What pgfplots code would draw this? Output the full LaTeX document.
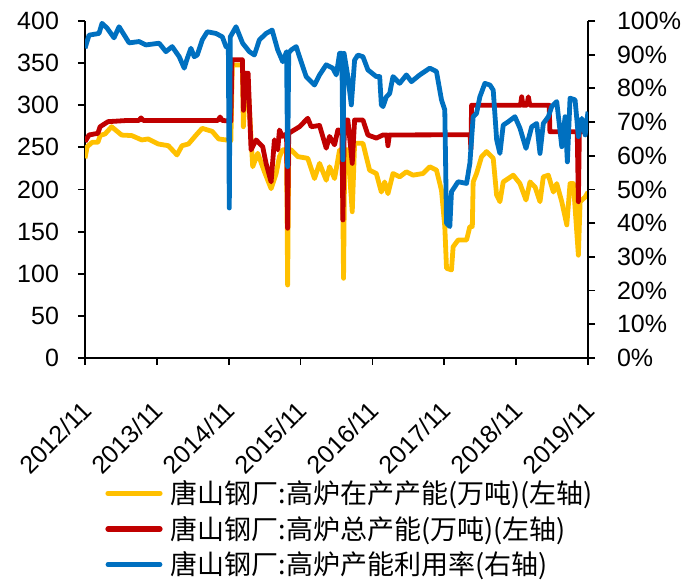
\documentclass[border=0pt]{standalone}
\usepackage{fontspec}
\setmainfont{Liberation Sans}
\newfontfamily\cjk{Noto Sans CJK SC}
\usepackage{pgfplots}
\pgfplotsset{compat=1.18}
\definecolor{cyel}{HTML}{FFC000}
\definecolor{cred}{HTML}{C00000}
\definecolor{cblu}{HTML}{0070C0}

\begin{document}
\begin{tikzpicture}
\useasboundingbox (-42.5pt,-111.5pt) rectangle (304.5pt,179pt);
\pgfplotsset{
  every axis/.append style={
    scale only axis, width=251.5pt, height=168.5pt,
    xmin=0, xmax=7,
    tick align=outside, major tick length=3.5pt,
    axis line style={line width=0.9pt,-},
    every tick/.style={black, line width=0.9pt},
    tick label style={font=\fontsize{12.5}{15}\selectfont},
    /pgf/number format/assume math mode=true,
    line join=round,
  },
}
\begin{axis}[
  axis x line*=bottom, axis y line*=left,
  ymin=0, ymax=400, ytick={0,50,...,400},
  xtick={0,...,7},
  xticklabels={2012/11,2013/11,2014/11,2015/11,2016/11,2017/11,2018/11,2019/11},
  xticklabel style={rotate=45, anchor=north east, xshift=-10.5pt, yshift=-7pt},
  yticklabel style={xshift=-6pt},
]
\addplot[cyel, line width=2.4pt] coordinates {
(0.00,237) (0.03,250.8) (0.10,256) (0.18,256) (0.21,264) (0.28,266) (0.37,274.5)
(0.51,264.6) (0.65,264) (0.79,258.8) (0.88,260) (1.02,254) (1.16,252) (1.28,241)
(1.35,252) (1.44,254) (1.54,264) (1.63,272.6) (1.77,269) (1.86,260) (2.03,258)
(2.05,347.8) (2.19,347.8) (2.204,274.5) (2.235,330) (2.264,330) (2.334,227)
(2.404,243) (2.497,221) (2.59,201) (2.66,219) (2.706,239) (2.75,247) (2.805,247)
(2.82,86.6) (2.835,247) (2.869,247) (2.962,239) (3.10,237) (3.194,213) (3.264,231)
(3.357,211) (3.403,227) (3.473,213) (3.543,247) (3.58,247) (3.598,94.6) (3.615,247)
(3.658,247) (3.719,173.6) (3.752,254.8) (3.868,254.8) (3.96,223) (4.054,219)
(4.124,197) (4.17,209) (4.216,195) (4.286,219) (4.379,215) (4.473,221) (4.566,217)
(4.705,219) (4.798,227) (4.891,223) (4.961,199) (5.007,156) (5.031,106.5)
(5.100,104.5) (5.123,132) (5.192,140) (5.310,140) (5.356,156) (5.39,156) (5.402,209)
(5.449,219) (5.519,239) (5.588,245) (5.681,237) (5.728,193.5) (5.774,185.5)
(5.820,209) (5.960,217) (6.053,207) (6.137,187.5) (6.193,209) (6.263,203)
(6.332,185.5) (6.378,215) (6.448,217) (6.518,197) (6.565,207) (6.635,185.5)
(6.705,158) (6.750,207) (6.797,207) (6.866,122) (6.89,185.5) (6.960,191) (7.0,197)
};
\addplot[cred, line width=2.4pt] coordinates {
(0.00,256.7) (0.056,264.7) (0.18,266.7) (0.21,274.5) (0.32,280.5) (0.60,282)
(0.75,282) (0.78,285) (0.81,282) (1.60,282) (1.85,282) (1.88,286) (1.91,282)
(2.03,281) (2.045,354) (2.19,354) (2.205,294) (2.235,338) (2.27,338) (2.311,247)
(2.381,258.8) (2.473,250.8) (2.52,231) (2.59,209) (2.636,259) (2.682,247)
(2.706,270.6) (2.75,263) (2.805,266) (2.82,154) (2.835,266.7) (2.985,274.5)
(3.10,284.5) (3.148,274.5) (3.264,276) (3.357,249) (3.403,263) (3.473,253)
(3.519,270.6) (3.575,270) (3.589,163.8) (3.61,282.5) (3.658,282.5) (3.719,231)
(3.752,282.5) (3.868,282.5) (3.937,264.7) (4.054,261) (4.147,264.7) (4.20,264.7)
(4.216,252) (4.235,264.7) (5.36,265) (5.37,248) (5.38,300) (6.06,300) (6.077,310)
(6.095,300) (6.15,300) (6.17,310) (6.19,300) (6.46,300) (6.47,268.6) (6.85,268.6)
(6.866,185.5) (6.88,268.6) (7.0,268.6)
};
\end{axis}
\begin{axis}[
  axis x line=none, axis y line*=right,
  ymin=0, ymax=100, ytick={0,10,...,100},
  yticklabel={\pgfmathprintnumber{\tick}\%},
  yticklabel style={xshift=7.5pt},
  legend style={at={(0,0)}, anchor=north west, xshift=10pt, yshift=-59pt,
    draw=none, fill=none, inner sep=0pt, row sep=0.8pt,
    /tikz/every odd column/.append style={column sep=2pt},
    font=\cjk\fontsize{13.5}{16}\selectfont},
  legend cell align=left,
  legend image code/.code={\draw[#1, line cap=round] (0pt,0pt) -- (26pt,0pt);},
]
\addlegendimage{cyel, line width=2.6pt}
\addlegendentry{唐山钢厂:高炉在产产能(万吨)(左轴)}
\addlegendimage{cred, line width=2.6pt}
\addlegendentry{唐山钢厂:高炉总产能(万吨)(左轴)}
\addplot[cblu, line width=2.4pt] coordinates {
(0.00,91.9) (0.056,95.8) (0.195,96.3) (0.237,99.3) (0.307,97.9) (0.404,95.0)
(0.474,98.3) (0.614,93.5) (0.753,93.9) (0.847,92.9) (1.032,93.4) (1.126,90.9)
(1.213,92.4) (1.311,89.4) (1.381,86.0) (1.423,88.9) (1.474,91.9) (1.520,89.4)
(1.562,89.9) (1.632,94.4) (1.702,96.8) (1.823,96.3) (1.911,95.3) (1.962,92.4)
(1.995,92.0) (2.008,44.5) (2.022,95.3) (2.102,98.3) (2.194,93.4) (2.287,90.9)
(2.357,89.9) (2.427,94.4) (2.520,96.3) (2.604,97.3) (2.682,91.4) (2.752,87.9)
(2.805,90.9) (2.82,56.8) (2.835,90.5) (2.869,91.4) (2.939,92.4) (3.008,87.9)
(3.078,83.5) (3.194,81.0) (3.264,84.0) (3.357,87.0) (3.449,86.0) (3.497,84.0)
(3.543,90.4) (3.575,90.4) (3.589,58.8) (3.605,90.4) (3.658,83.5) (3.706,75.1)
(3.752,88.4) (3.798,89.9) (3.868,89.4) (3.937,85.5) (4.054,83.5) (4.101,83.5)
(4.124,75.1) (4.147,74.6) (4.194,77.5) (4.240,78.5) (4.286,83.5) (4.379,81.5)
(4.473,84.0) (4.543,82.0) (4.658,84.0) (4.798,86.0) (4.891,85.0) (4.961,76.6)
(5.007,73.6) (5.031,40.0) (5.077,39.0) (5.100,49.3) (5.192,52.3) (5.310,51.8)
(5.356,57.8) (5.402,71.6) (5.449,72.6) (5.495,77.5) (5.565,81.5) (5.635,81.0)
(5.681,79.5) (5.729,64.7) (5.774,60.7) (5.820,69.1) (5.890,70.1) (5.983,71.6)
(6.053,68.2) (6.137,62.2) (6.216,68.6) (6.286,69.6) (6.332,60.7) (6.378,69.6)
(6.448,71.6) (6.495,74.6) (6.565,76.1) (6.635,62.7) (6.681,71.6) (6.713,58.2)
(6.750,77.1) (6.820,76.6) (6.866,65.7) (6.914,71.1) (6.960,66.2) (7.0,73.1)
};
\addlegendentry{唐山钢厂:高炉产能利用率(右轴)}
\end{axis}
\end{tikzpicture}
\end{document}
